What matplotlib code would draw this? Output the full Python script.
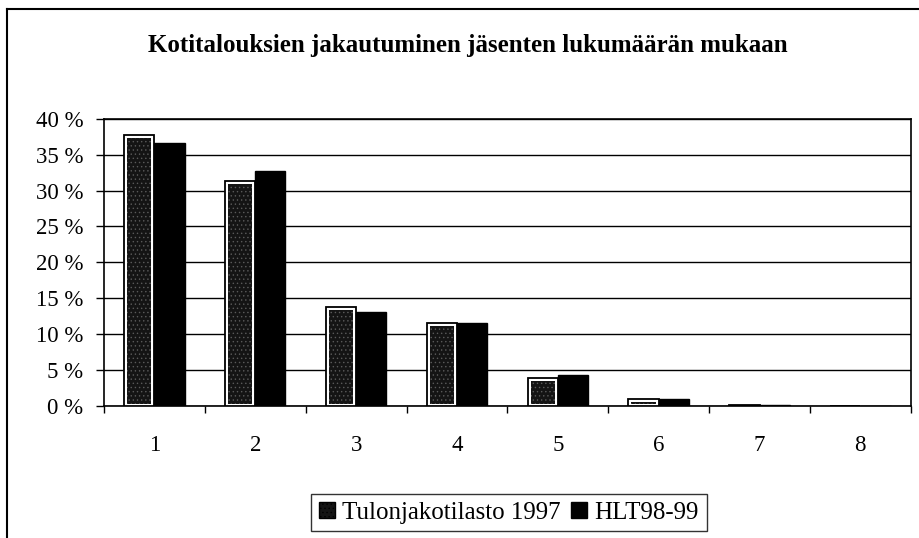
import numpy as np
import matplotlib
matplotlib.use("Agg")
import matplotlib.pyplot as plt
from matplotlib.lines import Line2D
from matplotlib.patches import Patch

# household size categories and share of households (%)
categories = ["1", "2", "3", "4", "5", "6", "7", "8"]
tulonjako_1997 = [37.8, 31.3, 13.8, 11.5, 3.9, 0.9, 0.1, 0.0]
hlt_98_99 = [36.7, 32.7, 13.1, 11.5, 4.3, 0.9, 0.1, 0.0]
series_names = ["Tulonjakotilasto 1997", "HLT98-99"]
yticks = [0, 5, 10, 15, 20, 25, 30, 35, 40]
title = "Kotitalouksien jakautuminen jäsenten lukumäärän mukaan"

plt.rcParams["font.family"] = ["Liberation Serif", "DejaVu Serif"]
plt.rcParams["hatch.linewidth"] = 0.5

fig = plt.figure(figsize=(9.2, 5.38), dpi=100)
ax = fig.add_axes([0.113, 0.246, 0.877, 0.533])

x = np.arange(len(categories))
w = 0.3

# first series: white-bordered stippled bars
ax.bar(x - w / 2, tulonjako_1997, width=w, color="white", edgecolor="black",
       linewidth=1.3, zorder=3)
inner = [max(v - 0.7, 0) for v in tulonjako_1997]
ax.bar(x - w / 2, inner, width=w * 0.8, bottom=0.3, color="#141414",
       edgecolor="#5a5a5a", linewidth=0, hatch="....", zorder=4)
# second series: solid black
ax.bar(x + w / 2, hlt_98_99, width=w, color="black", edgecolor="black",
       linewidth=1.0, zorder=3)

ax.set_xlim(-0.5, len(categories) - 0.5)
ax.set_ylim(0, 40)
ax.set_yticks(yticks)
ax.set_yticklabels([f"{t} %" for t in yticks], fontsize=16.5)
ax.set_xticks(x)
ax.set_xticklabels(categories, fontsize=16.5)
ax.set_xticks(np.arange(len(categories) + 1) - 0.5, minor=True)
ax.tick_params(axis="x", which="major", length=0, pad=21)
ax.tick_params(axis="x", which="minor", length=5, width=1, direction="out")
ax.tick_params(axis="y", length=6, width=1, direction="out", pad=9)
ax.yaxis.grid(True, color="black", linewidth=1.0, zorder=0)
ax.set_axisbelow(True)
for s in ax.spines.values():
    s.set_linewidth(1.2)
    s.set_color("black")

fig.text(0.508, 0.916, title, ha="center", va="center", fontsize=18,
         fontweight="bold")

# outer chart frame (left and top)
fig.add_artist(Line2D([0.0076, 0.0076], [0.0, 0.983], color="black",
                      linewidth=1.5, transform=fig.transFigure))
fig.add_artist(Line2D([0.0076, 1.0], [0.983, 0.983], color="black",
                      linewidth=1.5, transform=fig.transFigure))

handles = [Patch(facecolor="#141414", edgecolor="black", hatch="....", linewidth=1.0),
           Patch(facecolor="black", edgecolor="black")]
leg = fig.legend(handles, series_names, loc="center", bbox_to_anchor=(0.553, 0.047),
                 ncol=2, fontsize=18, frameon=True, fancybox=False,
                 handlelength=0.65, handleheight=0.65, handletextpad=0.3,
                 columnspacing=0.4, borderpad=0.3)
leg.get_frame().set_edgecolor("black")
leg.get_frame().set_linewidth(1.0)

fig.savefig("out.png", dpi=100, facecolor="white")
